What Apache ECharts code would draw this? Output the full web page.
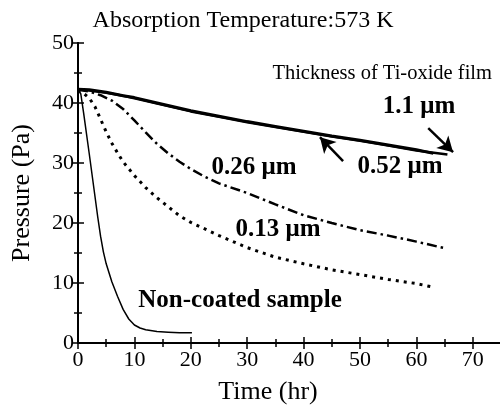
<!DOCTYPE html>
<html>
<head>
<meta charset="utf-8">
<script src="https://cdn.jsdelivr.net/npm/echarts@6/dist/echarts.min.js"></script>
<style>
html,body{margin:0;padding:0;background:#fff;}
#c{width:500px;height:406px;}
</style>
</head>
<body>
<div id="c"></div>
<script>
// Time (hr), Pressure (Pa)
var nonCoated = [[0,42.3],[0.5,41.5],[1,38.3],[2,31.5],[3,24.5],[3.5,21],[4,17.8],[4.5,15.2],[5,13.2],[6,10.2],[7,7.8],[8,5.6],[9,4],[10,3],[11,2.5],[12,2.2],[14,1.9],[16,1.8],[18,1.7],[20.2,1.7]];
var film013 = [[0,42.2],[1,41.6],[2,40.8],[3,39.4],[4,37.3],[5,35.2],[6,33.3],[7,31.7],[8,30.2],[10,27.9],[12,25.9],[14,24.2],[16,22.7],[18,21.2],[20,20.1],[25,17.9],[30,15.9],[35,14.3],[40,13.2],[45,12.2],[50,11.4],[55,10.6],[60,9.9],[63,9.3]];
var film026 = [[0,42.2],[2,41.9],[4,41.3],[6,40.4],[8,39],[10,37.1],[12,35.1],[14,33.2],[16,31.6],[18,30.2],[20,29],[22.5,27.7],[25,26.6],[30,25],[35,23.1],[40,21.3],[45,20],[50,18.8],[55,17.9],[60,16.9],[65,15.8]];
var film052 = [[0,42.3],[2,42.2],[5,41.8],[8,41.2],[10,40.9],[15,39.8],[20,38.7],[25,37.8],[30,36.9],[35,36.1],[40,35.3],[45,34.5],[50,33.8],[55,33],[60,32.2],[63,31.6]];
var film11 = [[0,42.3],[2,42.1],[5,41.7],[8,41.2],[10,40.8],[15,39.7],[20,38.6],[25,37.7],[30,36.8],[35,36],[40,35.2],[45,34.4],[50,33.7],[55,32.9],[60,32.1],[65.5,31.4]];
var xTicks = [0,10,20,30,40,50,60,70];
var yTicks = [0,10,20,30,40,50];
var arrow11 = [[62.1,35.8],[66.5,31.8]];
var arrow052 = [[47,30.3],[42.9,34.3]];

var F = "'Liberation Serif', 'Times New Roman', serif";
var chart = echarts.init(document.getElementById('c'), null, {renderer:'canvas'});
var axisCommon = {
  axisLine:{show:true,lineStyle:{color:'#000',width:2}},
  axisTick:{show:true,inside:true,length:6,lineStyle:{color:'#000',width:1.5}},
  minorTick:{show:true,splitNumber:2,length:4,lineStyle:{color:'#000',width:1.5}},
  splitLine:{show:false}
};
function lineSeries(data, width, type){
  return {type:'line',data:data,showSymbol:false,symbol:'none',smooth:false,
    xAxisIndex:0,yAxisIndex:0,animation:false,
    lineStyle:{color:'#000',width:width,type:type,cap:'butt'}};
}
function txt(x,y,s,size,weight,align){
  return {type:'text',x:x,y:y,style:{text:s,fontFamily:F,fontSize:size,fontWeight:weight||'normal',
    fill:'#000',textAlign:align||'center',textVerticalAlign:'middle'}};
}
var s11 = lineSeries(film11, 2.5, 'solid');
s11.markLine = {silent:true,animation:false,symbol:['none','arrow'],symbolSize:[13,15],
  label:{show:false},lineStyle:{color:'#000',width:2.5,type:'solid'},
  data:[
    [{coord:arrow11[0]},{coord:arrow11[1]}],
    [{coord:arrow052[0]},{coord:arrow052[1]}]
  ]};
chart.setOption({
  animation:false,
  grid:{left:78,top:43,width:423,height:300,containLabel:false,outerBoundsMode:'none'},
  xAxis:[
    Object.assign({type:'value',min:0,max:75,interval:10,position:'bottom',
      axisLabel:{show:true,color:'#000',fontFamily:F,fontSize:22,margin:6,showMaxLabel:false,
        formatter:function(v){return xTicks.indexOf(v)>=0?String(v):'';}}},axisCommon),
    Object.assign({type:'value',min:0,max:75,interval:10,position:'top',axisLabel:{show:false}},axisCommon)
  ],
  yAxis:[
    Object.assign({type:'value',min:0,max:50,interval:10,position:'left',
      name:'Pressure (Pa)',nameLocation:'middle',nameGap:43,nameRotate:90,
      nameTextStyle:{color:'#000',fontFamily:F,fontSize:26},
      axisLabel:{show:true,color:'#000',fontFamily:F,fontSize:22,margin:4,
        formatter:function(v){return yTicks.indexOf(v)>=0?String(v):'';}}},axisCommon),
    Object.assign({type:'value',min:0,max:50,interval:10,position:'right',axisLabel:{show:false}},axisCommon)
  ],
  series:[
    lineSeries(nonCoated, 1.5, 'solid'),
    lineSeries(film013, 3, [3,5]),
    lineSeries(film026, 2.5, [10,4,2.5,4]),
    lineSeries(film052, 3, 'solid'),
    s11
  ],
  graphic:[
    txt(243,21,'Absorption Temperature:573 K',24),
    txt(268,392,'Time (hr)',26),
    txt(492,74,'Thickness of Ti-oxide film',20.5,'normal','right'),
    txt(419,107,'1.1 μm',25,'bold'),
    txt(400,167,'0.52 μm',25,'bold'),
    txt(254,168,'0.26 μm',25,'bold'),
    txt(278,230,'0.13 μm',25,'bold'),
    txt(240,301,'Non-coated sample',25,'bold')
  ]
});
</script>
</body>
</html>
